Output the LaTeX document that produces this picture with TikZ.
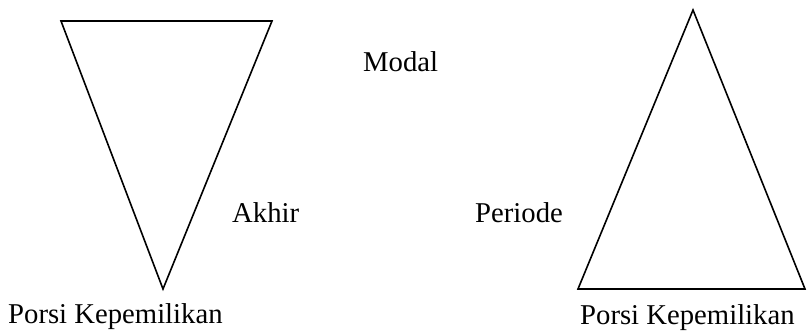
\documentclass[tikz,border=0pt]{standalone}
\usepackage{fontspec}
\setmainfont{Liberation Serif}
\begin{document}
\begin{tikzpicture}[x=1pt,y=1pt,
  lbl/.style={anchor=base west,inner sep=0pt,font=\fontsize{28.7}{34}\selectfont},
  tri/.style={draw=black,line width=1.6pt,line join=miter}]
\useasboundingbox (0,0) rectangle (808,331);
\draw[tri] (61,310) -- (272,310) -- (163,42) -- cycle;
\draw[tri] (693,321) -- (805,42) -- (578,42) -- cycle;
\node[lbl] (modal) at (363,259) {Modal};
\node[lbl] (akhir) at (232,108) {Akhir};
\node[lbl] (periode) at (475,108) {Periode};
\node[lbl] (pk1) at (8,7) {Porsi Kepemilikan};
\node[lbl] (pk2) at (580,6) {Porsi Kepemilikan};
\end{tikzpicture}
\end{document}
